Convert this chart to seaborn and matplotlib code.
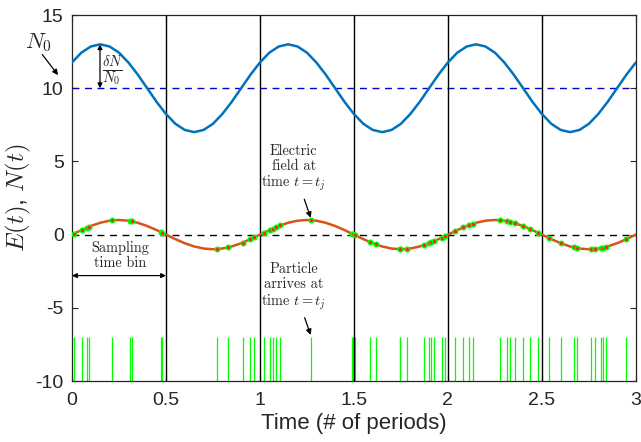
import numpy as np
import pandas as pd
import matplotlib
matplotlib.use("Agg")
import matplotlib.pyplot as plt
import seaborn as sns

# curve samples (step 0.05 in time)
t_curve = np.round(np.arange(61) * 0.05, 2)
N_period = [11.76, 12.43, 12.85, 13.0, 12.85, 12.43, 11.76, 10.93, 10.0, 9.07,
            8.24, 7.57, 7.15, 7.0, 7.15, 7.57, 8.24, 9.07, 10.0, 10.93]
E_period = [0.0, 0.309, 0.588, 0.809, 0.951, 1.0, 0.951, 0.809, 0.588, 0.309,
            0.0, -0.309, -0.588, -0.809, -0.951, -1.0, -0.951, -0.809, -0.588, -0.309]
N_vals = N_period * 3 + [11.76]
E_vals = E_period * 3 + [0.0]

# particle arrival times t_j and field value at those times
t_arrive = [0.011, 0.055, 0.078, 0.089, 0.211, 0.310, 0.317, 0.471, 0.479,
            0.771, 0.830, 0.909, 0.949, 0.971, 1.019, 1.051, 1.068, 1.086, 1.109,
            1.272, 1.490, 1.497, 1.507, 1.585, 1.617, 1.743, 1.746, 1.782, 1.874,
            1.900, 1.912, 1.928, 1.968, 1.982, 2.037, 2.081, 2.111, 2.134, 2.277,
            2.316, 2.329, 2.355, 2.401, 2.436, 2.480, 2.537, 2.602, 2.671, 2.689,
            2.762, 2.781, 2.815, 2.825, 2.843, 2.948]
E_arrive = [0.07, 0.34, 0.47, 0.53, 0.97, 0.93, 0.91, 0.18, 0.13,
            -0.99, -0.88, -0.54, -0.32, -0.18, 0.12, 0.32, 0.41, 0.52, 0.63,
            0.99, 0.06, 0.02, -0.04, -0.51, -0.67, -1.00, -1.00, -0.98, -0.71,
            -0.59, -0.53, -0.44, -0.20, -0.11, 0.23, 0.49, 0.64, 0.75, 0.99,
            0.92, 0.88, 0.79, 0.58, 0.39, 0.13, -0.23, -0.60, -0.88, -0.93,
            -1.00, -0.98, -0.92, -0.89, -0.83, -0.32]

bin_edges = [0.5, 1.0, 1.5, 2.0, 2.5]
x_ticks = [0, 0.5, 1, 1.5, 2, 2.5, 3]
x_labels = ["0", "0.5", "1", "1.5", "2", "2.5", "3"]
y_ticks = [-10, -5, 0, 5, 10, 15]
y_labels = ["-10", "-5", "0", "5", "10", "15"]

sns.set_style("ticks")
plt.rcParams["font.family"] = ["Liberation Sans", "DejaVu Sans"]
plt.rcParams["mathtext.fontset"] = "cm"
plt.rcParams["xtick.direction"] = "in"
plt.rcParams["ytick.direction"] = "in"

df = pd.DataFrame({"t": t_curve, "N": N_vals, "E": E_vals})
df_pts = pd.DataFrame({"t": t_arrive, "E": E_arrive})

fig, ax = plt.subplots(figsize=(6.41, 4.42), dpi=100)
fig.subplots_adjust(left=0.1123, right=0.992, top=0.966, bottom=0.138)

# particle arrival ticks
ax.vlines(t_arrive, -10, -7, color="#00ff00", lw=0.9, zorder=2)

# sampling bins
ax.vlines(bin_edges, -10, 15, color="black", lw=1.0, zorder=3)

ax.axhline(10, color="#0000cc", lw=1.0, ls=(0, (5, 4)), zorder=2)
ax.axhline(0, color="black", lw=1.0, ls=(0, (5, 4)), zorder=2)

sns.lineplot(data=df, x="t", y="N", color="#0072BD", lw=1.8, ax=ax, zorder=4)
sns.lineplot(data=df, x="t", y="E", color="#D95319", lw=1.8, ax=ax, zorder=4)
sns.scatterplot(data=df_pts, x="t", y="E", s=11, color="#ff2020",
                edgecolor="#00ff00", linewidth=1.0, ax=ax, zorder=5)

ax.set_xlim(0, 3)
ax.set_ylim(-10, 15)
ax.set_xticks(x_ticks)
ax.set_xticklabels(x_labels)
ax.set_yticks(y_ticks)
ax.set_yticklabels(y_labels)
ax.tick_params(labelsize=14, length=4, width=0.8, top=True, right=True,
               labeltop=False, labelright=False, labelcolor="#262626")
ax.tick_params(axis="x", pad=8)
ax.tick_params(axis="y", pad=6)
for s in ax.spines.values():
    s.set_linewidth(0.9)
ax.set_xlabel("Time (# of periods)", fontsize=16, labelpad=3, color="#262626")
ax.set_ylabel("$E(t)$, $N(t)$", fontsize=18, labelpad=2)

# annotations
cm = dict(family="cmr10", fontsize=10.3, ha="center", va="center")
ax.text(-0.18, 13.1, "$N_0$", fontsize=16, ha="center", va="center")
ax.annotate("", xy=(-0.074, 10.9), xytext=(-0.158, 12.3), annotation_clip=False,
            arrowprops=dict(arrowstyle="-|>", color="black", lw=0.9,
                            mutation_scale=8, shrinkA=0, shrinkB=0))
ax.annotate("", xy=(0.149, 10.0), xytext=(0.149, 13.0),
            arrowprops=dict(arrowstyle="<|-|>", color="black", lw=0.9,
                            mutation_scale=7, shrinkA=0, shrinkB=0))
ax.text(0.218, 11.2, r"$\frac{\delta N}{N_0}$", fontsize=15, ha="center", va="center")

ax.annotate("Electric\nfield at\ntime $t=t_j$", xy=(1.27, 1.15), xytext=(1.18, 4.5),
            arrowprops=dict(arrowstyle="-|>", color="black", lw=0.9,
                            mutation_scale=8, shrinkA=2, shrinkB=0),
            linespacing=1.1, **cm)
ax.annotate("Particle\narrives at\ntime $t=t_j$", xy=(1.27, -6.85), xytext=(1.18, -3.6),
            arrowprops=dict(arrowstyle="-|>", color="black", lw=0.9,
                            mutation_scale=8, shrinkA=2, shrinkB=0),
            linespacing=1.1, **cm)
ax.text(0.255, -1.45, "Sampling\ntime bin", linespacing=1.1, **cm)
ax.annotate("", xy=(0.0, -2.8), xytext=(0.5, -2.8),
            arrowprops=dict(arrowstyle="<|-|>", color="black", lw=0.9,
                            mutation_scale=7, shrinkA=0, shrinkB=0))

fig.savefig("out.png", dpi=100)
